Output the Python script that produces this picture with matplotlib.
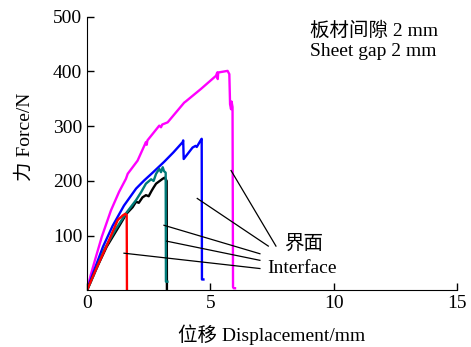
import matplotlib
matplotlib.use("Agg")
import matplotlib.pyplot as plt

plt.rcParams['font.family'] = ['Liberation Serif', 'Noto Sans CJK SC']
plt.rcParams['font.size'] = 14

# 曲线数据（位移 mm, 力 N）
mag_x = [0, 0.15, 0.36, 0.6, 0.97, 1.3, 1.58, 1.65, 2.05, 2.39, 2.42, 2.45, 2.93, 3.0, 3.05, 3.27, 3.94, 4.0, 4.62,
         5.23, 5.28, 5.30, 5.32, 5.70, 5.77, 5.80, 5.84, 5.86, 5.90, 5.92, 5.95, 6.00]
mag_y = [0, 28, 61, 98, 146, 180, 204, 213, 237, 271, 266, 274, 301, 298, 303, 307, 343, 345, 368,
         392, 398, 386, 398, 401, 395, 340, 331, 345, 335, 6, 4, 4]

blue_x = [0, 0.15, 0.36, 0.65, 1.04, 1.5, 1.99, 2.32, 2.66, 3.13, 3.50, 3.88, 3.90, 3.92, 4.28, 4.40, 4.45,
          4.62, 4.65, 4.66, 4.72]
blue_y = [0, 20, 45, 80, 118, 155, 186, 201, 215, 235, 252, 271, 274, 240, 261, 264, 262,
          275, 277, 20, 20]

teal_x = [0, 0.15, 0.36, 0.7, 1.18, 1.6, 1.99, 2.2, 2.39, 2.60, 2.70, 2.80, 2.93, 3.0, 3.07, 3.12, 3.19, 3.20, 3.26]
teal_y = [0, 15, 37, 75, 113, 142, 165, 180, 195, 203, 200, 213, 222, 216, 225, 218, 215, 16, 16]

blk_x = [0, 0.15, 0.36, 0.8, 1.31, 1.60, 1.85, 1.99, 2.10, 2.25, 2.39, 2.50, 2.62, 2.70, 2.80, 2.95, 3.07,
         3.15, 3.23, 3.24]
blk_y = [0, 16, 38, 80, 118, 140, 152, 162, 160, 170, 174, 172, 182, 188, 195, 200, 204, 206, 200, 3]

red_x = [0, 0.15, 0.36, 0.8, 1.24, 1.30, 1.38, 1.45, 1.55, 1.61, 1.62]
red_y = [0, 16, 38, 82, 128, 131, 134, 137, 140, 138, 0]

# 引线: (起点x, 起点y, 终点x, 终点y)
lead_jm = [(5.84, 219, 7.66, 81), (4.47, 168, 7.35, 81)]
lead_if = [(3.12, 119, 7.01, 67), (3.23, 90, 7.01, 55), (1.50, 68, 7.01, 40)]

xticks = [0, 5, 10, 15]
yticks = [100, 200, 300, 400, 500]

fig = plt.figure(figsize=(4.71, 3.47), dpi=100)
ax = fig.add_axes([0.1847, 0.163, 0.7856, 0.789])

lw = 1.7
ax.plot(mag_x, mag_y, color='#FF00FF', lw=lw)
ax.plot(blue_x, blue_y, color='#0000FF', lw=lw)
ax.plot(blk_x, blk_y, color='black', lw=lw)
ax.plot(teal_x, teal_y, color='#007A78', lw=lw)
ax.plot(red_x, red_y, color='#FF0000', lw=lw)

for x0, y0, x1, y1 in lead_jm + lead_if:
    ax.plot([x0, x1], [y0, y1], color='black', lw=0.9)

ax.text(8.0, 85, '界面', ha='left', va='center', fontsize=14)
ax.text(7.3, 40, 'Interface', ha='left', va='center', fontsize=14)
ax.text(9.05, 490, '板材间隙 2 mm\nSheet gap 2 mm', ha='left', va='top', fontsize=14, linespacing=1.2)

ax.set_xlim(0, 15)
ax.set_ylim(0, 500)
ax.set_xticks(xticks)
ax.set_yticks(yticks)
ax.spines['top'].set_visible(False)
ax.spines['right'].set_visible(False)
ax.tick_params(direction='in', length=5, width=1, labelsize=14)
ax.set_xlabel('位移 Displacement/mm', fontsize=14, labelpad=9)
ax.set_ylabel('力 Force/N', fontsize=14)
ax.yaxis.set_label_coords(-0.145, 0.56)

fig.savefig('out.png', dpi=100)
